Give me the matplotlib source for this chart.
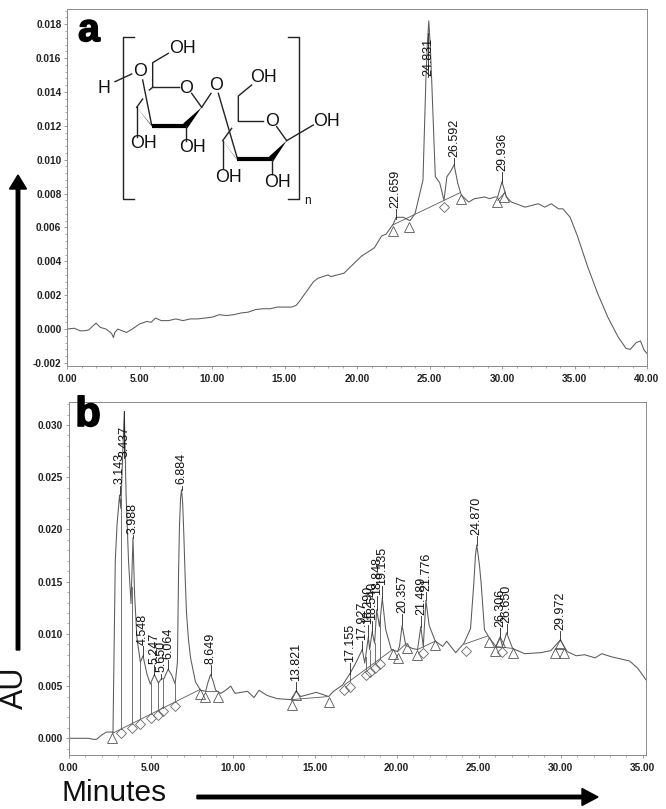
import matplotlib
matplotlib.use('Agg')
import matplotlib.pyplot as plt
import matplotlib.patheffects as pe
from matplotlib.patches import Polygon, FancyArrow
from matplotlib.ticker import MultipleLocator, FormatStrFormatter
import numpy as np

plt.rcParams['font.family'] = ['Liberation Sans', 'DejaVu Sans']

# panel a trace
a_t = [0, 0.5, 0.9, 1.2, 1.5, 1.8, 2.0, 2.3, 2.7, 3.0, 3.1, 3.2, 3.3, 3.5, 3.8, 4.1, 4.5, 5.0, 5.5, 5.8,
       6.1, 6.5, 7, 7.5, 8, 8.5, 9, 9.5, 10, 10.5, 11, 11.5, 12, 12.5, 13, 13.5, 14, 14.5, 15, 15.5,
       15.8, 16, 16.5, 17, 17.3, 18, 18.2, 19.1, 20.3, 21.2, 21.7, 22, 22.5, 22.7, 23.2, 23.65, 24,
       24.55, 24.75, 24.85, 24.95, 25.05, 25.15, 25.4, 25.7, 26, 26.2, 26.45, 26.7, 26.95, 27.2, 27.7, 28.1, 28.8,
       29.15, 29.5, 29.7, 30, 30.3, 30.65, 31.6, 32.5, 32.95, 33.4, 33.9, 34.2, 34.7, 35.2, 35.9,
       36.6, 37.3, 38, 38.55, 38.85, 39.25, 39.55, 39.8, 40]
a_y = [0, 0.00005, -0.0001, -0.0001, -0.00005, 0.0002, 0.00035, 0.0001, 0, -0.0002, -0.0003, -0.0005,
       -0.0002, 0, -0.0001, -0.0002, 0, 0.0003, 0.00045, 0.0004, 0.00065, 0.0005, 0.0005, 0.0006,
       0.0005, 0.0006, 0.0006, 0.00065, 0.0007, 0.00085, 0.0008, 0.00085, 0.00095, 0.001, 0.00115,
       0.0012, 0.0012, 0.0013, 0.0013, 0.0013, 0.0014, 0.0016, 0.0022, 0.0028, 0.003, 0.0032, 0.0031,
       0.0033, 0.0043, 0.0048, 0.0055, 0.0056, 0.0062, 0.0066, 0.0066, 0.0064, 0.0068, 0.0088, 0.0147,
       0.0168, 0.0182, 0.0168, 0.0147, 0.009, 0.00865, 0.0076, 0.009, 0.0093, 0.0097, 0.0086, 0.0079, 0.0075, 0.0077,
       0.0078, 0.0077, 0.0078, 0.0078, 0.0087, 0.0078, 0.0075, 0.0072, 0.0074, 0.0072, 0.0074, 0.0071,
       0.0071, 0.0066, 0.0055, 0.0037, 0.0021, 0.0007, -0.00045, -0.00114, -0.0012, -0.0008, -0.0007,
       -0.00124, -0.00144]

a_base = [([22.45, 27.1], [0.00614, 0.00805]), ([29.7, 30.25], [0.0076, 0.0081])]
a_tri_t = [22.45, 23.6, 27.15, 29.65, 30.15]
a_tri_y = [0.0058, 0.0060, 0.0077, 0.0075, 0.0078]
a_dia_t = [26.0]
a_dia_y = [0.0072]
a_drop_t = [26.0]
a_names = ['22.659', '24.831', '26.592', '29.936']
a_pk_t = [22.66, 24.9, 26.7, 30.0]
a_lab_y = [0.0071, 0.0149, 0.0101, 0.0093]

# panel b trace
b_t = [0, 1.2, 1.5, 1.7, 2.0, 2.3, 2.65, 2.7, 2.84, 2.95, 3.1, 3.18, 3.3, 3.39, 3.5, 3.65, 3.8, 3.92, 4.02, 4.16,
       4.37, 4.53, 4.78, 4.98, 5.22, 5.47, 5.65, 5.8, 6.06, 6.27, 6.49, 6.63, 6.7, 6.75, 6.82, 6.88, 6.95, 7.02, 7.1, 7.18,
       7.3, 7.43, 7.73, 8.04, 8.35, 8.5, 8.65, 8.8, 8.96, 9.27, 9.57, 9.88, 10.14, 10.9, 11.3, 11.6, 12.1, 12.7, 13.55,
       13.86, 14.15, 15.1, 15.85, 16.15, 16.7, 17.15, 17.5, 17.9, 18.05, 18.27, 18.35, 18.5, 18.65,
       18.78, 18.95, 19.12, 19.33, 19.67, 20.05, 20.17, 20.33, 20.55, 20.96, 21.27, 21.47, 21.62, 21.78,
       21.98, 22.35, 22.8, 23.04, 23.6, 24.1, 24.5, 24.7, 24.8, 24.88, 24.97, 25.05, 25.15, 25.35, 25.65, 26.05, 26.3, 26.45,
       26.7, 27.07, 27.8, 28.8, 29.4, 29.97, 30.4, 30.95, 31.45, 32.1, 32.5, 33.1, 34.2, 34.7, 35.2]
b_y = [0, 0, -0.0001, -0.0001, 0.0003, 0.0006, 0.0006, 0.0005, 0.017, 0.0205, 0.0233, 0.022, 0.0275, 0.0313, 0.0233,
       0.0169, 0.0129, 0.0192, 0.0137, 0.0096, 0.0073, 0.0079, 0.0061, 0.0052, 0.0061, 0.0053, 0.0057,
       0.0057, 0.0066, 0.0061, 0.0052, 0.0073, 0.016, 0.0201, 0.023, 0.0238, 0.0225, 0.0195, 0.0155, 0.0121,
       0.0095, 0.0077, 0.0054, 0.0046, 0.0045, 0.0054, 0.0061, 0.0055, 0.0046, 0.0043, 0.0046, 0.005, 0.0043, 0.0045,
       0.0039, 0.0046, 0.0041, 0.0038, 0.0037, 0.0045, 0.004, 0.0044, 0.004, 0.0045, 0.0051, 0.0062, 0.0072, 0.0085,
       0.0072, 0.0097, 0.0085, 0.0102, 0.0091, 0.0123, 0.0107, 0.0134, 0.0104, 0.0085, 0.0083, 0.0088, 0.0108, 0.0089,
       0.0086, 0.0085, 0.0107, 0.0088, 0.0132, 0.0108, 0.0093, 0.0088, 0.0093, 0.0082, 0.0091, 0.0105,
       0.0148, 0.0175, 0.0185, 0.0175, 0.0165, 0.0148, 0.0104, 0.0096, 0.0088, 0.0097, 0.0088, 0.0101, 0.0086, 0.0081, 0.0082,
       0.0084, 0.0094, 0.0083, 0.0079, 0.008, 0.0077, 0.0081, 0.0078, 0.0074, 0.0067, 0.0056]

b_base = [([2.7, 8.04], [0.0005, 0.0047]), ([8.3, 9.1], [0.0045, 0.0045]), ([13.55, 15.85], [0.0037, 0.004]),
          ([16.8, 19.75], [0.0051, 0.0085]), ([20.05, 20.6], [0.0083, 0.0091]), ([21.27, 22.35], [0.0085, 0.0093]),
          ([24.1, 25.55], [0.0090, 0.0098]), ([26.0, 27.1], [0.0088, 0.0086]), ([29.65, 30.15], [0.0086, 0.0086])]
b_tri_t = [2.63, 7.98, 8.3, 9.1, 13.6, 13.85, 15.9, 19.75, 20.07, 20.62, 21.25, 22.35, 25.6, 25.98, 26.28,
           27.1, 29.67, 29.95, 30.18]
b_tri_y = [0.0, 0.0042, 0.004, 0.004, 0.0032, 0.0041, 0.0035, 0.0081, 0.0077, 0.0086, 0.008, 0.0089, 0.0092,
           0.0084, 0.0092, 0.0082, 0.0082, 0.009, 0.0082]
b_dia_t = [3.2, 3.83, 4.37, 5.0, 5.45, 5.78, 6.49, 16.8, 17.15, 18.1, 18.35, 18.65, 19.0, 21.6, 24.2, 26.45]
b_dia_y = [0.0005, 0.001, 0.0014, 0.0019, 0.0022, 0.0026, 0.0031, 0.0046, 0.0049, 0.0061, 0.0063, 0.0067,
           0.0071, 0.0082, 0.0084, 0.0083]
b_drop_t = [3.2, 3.83, 4.37, 5.0, 5.45, 5.78, 6.49, 17.15, 18.1, 18.35, 18.65, 19.0, 21.6, 26.45]
b_names = ['3.143', '3.437', '3.988', '4.548', '5.247', '5.650', '6.064', '6.884', '8.649', '13.821',
           '17.155', '17.927', '18.290', '18.540', '18.848', '19.135', '20.357', '21.489', '21.776',
           '24.870', '26.306', '26.650', '29.972']
b_pk_t = [3.1, 3.39, 3.92, 4.53, 5.22, 5.65, 6.06, 6.88, 8.65, 13.86, 17.15, 17.9, 18.27, 18.5, 18.78, 19.12,
          20.33, 21.47, 21.78, 24.88, 26.3, 26.7, 29.97]
b_lab_y = [0.0242, 0.0268, 0.0195, 0.0088, 0.007, 0.0062, 0.0075, 0.0242, 0.007, 0.0054, 0.0072, 0.0093,
           0.0108, 0.0112, 0.0136, 0.0146, 0.0119, 0.0117, 0.014, 0.0194, 0.0106, 0.0109, 0.0103]

W, H = 666, 809
LINE = '#5a5a5a'
FRAME = '#8a8a8a'


def make_axes(fig, left, right, top, bottom):
    return fig.add_axes([left / W, 1 - bottom / H, (right - left) / W, (bottom - top) / H])


def draw_panel(ax, t, y, bases, tri_t, tri_y, dia_t, dia_y, drop_t, names, pk_t, lab_y, xlim, ylim, ymaj, ymin, span):
    ax.plot(t, y, color=LINE, lw=0.75)
    for bx, by in bases:
        ax.plot(bx, by, color=LINE, lw=0.6)
    for dt in drop_t:
        b = min(np.interp(dt, bx, by) for bx, by in bases if bx[0] <= dt <= bx[1])
        ax.plot([dt, dt], [b, np.interp(dt, t, y)], color=LINE, lw=0.6)
    ax.plot(tri_t, tri_y, ls='none', marker='^', ms=7.5, mfc='none', mec='#555555', mew=0.6)
    ax.plot(dia_t, dia_y, ls='none', marker='D', ms=5, mfc='none', mec='#666666', mew=0.6)
    for name, pt, ly in zip(names, pk_t, lab_y):
        ax.plot([pt, pt], [ly, np.interp(pt, t, y)], color='#222222', lw=0.6)
        ax.text(pt, ly + span * 0.003, name, rotation=90, ha='center', va='bottom', fontsize=9, color='#111111')
    ax.set_xlim(*xlim)
    ax.set_ylim(*ylim)
    ax.xaxis.set_major_locator(MultipleLocator(5))
    ax.xaxis.set_minor_locator(MultipleLocator(1))
    ax.yaxis.set_major_locator(MultipleLocator(ymaj))
    ax.yaxis.set_minor_locator(MultipleLocator(ymin))
    ax.xaxis.set_major_formatter(FormatStrFormatter('%.2f'))
    ax.yaxis.set_major_formatter(FormatStrFormatter('%.3f'))
    ax.tick_params(which='major', length=2.5, width=0.6, color=FRAME, labelsize=7.3)
    ax.tick_params(axis='x', which='major', pad=3)
    ax.tick_params(axis='y', which='major', pad=1.5)
    ax.tick_params(which='minor', length=1.5, width=0.5, color=FRAME)
    for s in ax.spines.values():
        s.set_color(FRAME)
        s.set_linewidth(0.7)
    for lab in ax.get_xticklabels() + ax.get_yticklabels():
        lab.set_fontweight('bold')
        lab.set_color('#222222')


fig = plt.figure(figsize=(W / 100, H / 100), dpi=100)

ax_a = make_axes(fig, 67, 647, 9, 366)
draw_panel(ax_a, a_t, a_y, a_base, a_tri_t, a_tri_y, a_dia_t, a_dia_y, a_drop_t, a_names, a_pk_t, a_lab_y,
           (0, 40), (-0.00218, 0.0189), 0.002, 0.0004, 0.021)

ax_b = make_axes(fig, 68.7, 646, 402, 755)
draw_panel(ax_b, b_t, b_y, b_base, b_tri_t, b_tri_y, b_dia_t, b_dia_y, b_drop_t, b_names, b_pk_t, b_lab_y,
           (0, 35.2), (-0.0016, 0.0322), 0.005, 0.001, 0.034)

# overlay in pixel coordinates for the arrows, letters and the structure
ov = fig.add_axes([0, 0, 1, 1])
ov.set_xlim(0, W)
ov.set_ylim(H, 0)
ov.axis('off')
ov.patch.set_alpha(0)

heavy = [pe.withStroke(linewidth=1.2, foreground='black')]
ov.text(89, 31, 'a', fontsize=28, fontweight='bold', ha='center', va='center', color='black', path_effects=heavy)
ov.text(88, 415, 'b', fontsize=30, fontweight='bold', ha='center', va='center', color='black', path_effects=heavy)
ov.text(15, 688, 'AU', fontsize=22, rotation=90, ha='center', va='center', color='#111111')
ov.text(114, 793, 'Minutes', fontsize=21.5, ha='center', va='center', color='#111111')
ov.add_patch(FancyArrow(18, 650, 0, -475, width=3.5, head_width=17, head_length=14,
                        length_includes_head=True, color='black'))
ov.add_patch(FancyArrow(197, 797, 401, 0, width=3.5, head_width=17, head_length=16,
                        length_includes_head=True, color='black'))


def zx(v):
    return 100 + v / 3


def zy(v):
    return 30 + v / 3


bonds = [[(158, 172), (238, 172)], [(275, 190), (305, 232)], [(110, 232), (128, 207)], [(148, 180), (158, 172)],
         [(128, 150), (155, 285)], [(205, 70), (158, 98), (158, 172)], [(45, 155), (95, 132)],
         [(110, 232), (110, 320)], [(258, 288), (258, 332)], [(305, 232), (333, 190)], [(355, 190), (412, 385)],
         [(415, 272), (490, 272)], [(530, 290), (560, 332)], [(368, 332), (395, 295)],
         [(455, 165), (415, 198), (415, 272)], [(368, 332), (368, 415)], [(515, 388), (515, 432)],
         [(560, 332), (640, 285)],
         [(103, 22), (70, 22), (70, 507), (103, 507)], [(565, 22), (598, 22), (598, 507), (565, 507)]]
for bond in bonds:
    ov.plot([zx(p[0]) for p in bond], [zy(p[1]) for p in bond], color='#222222', lw=1.0)

wedges = [[(305, 232), (262, 295), (250, 280)], [(110, 232), (160, 295), (150, 280)],
          [(560, 332), (519, 395), (507, 380)], [(368, 332), (415, 395), (405, 380)]]
for w in wedges:
    ov.add_patch(Polygon([(zx(p[0]), zy(p[1])) for p in w], closed=True, color='black', lw=0))
for seg in [[(155, 288), (258, 288)], [(412, 388), (515, 388)]]:
    ov.plot([zx(p[0]) for p in seg], [zy(p[1]) for p in seg], color='black', lw=3, solid_capstyle='butt')

atoms = [('OH', 248, 55), ('O', 120, 125), ('H', 12, 175), ('O', 258, 175), ('O', 347, 167), ('OH', 490, 143),
         ('O', 515, 275), ('OH', 680, 273), ('OH', 130, 340), ('OH', 277, 353), ('OH', 385, 442), ('OH', 533, 457)]
for txt, x, y in atoms:
    ov.text(zx(x), zy(y), txt, fontsize=12.8, ha='center', va='center', color='#111111')
ov.text(zx(622), zy(512), 'n', fontsize=8.5, ha='center', va='center', color='#111111')

fig.savefig('out.png', dpi=100)
